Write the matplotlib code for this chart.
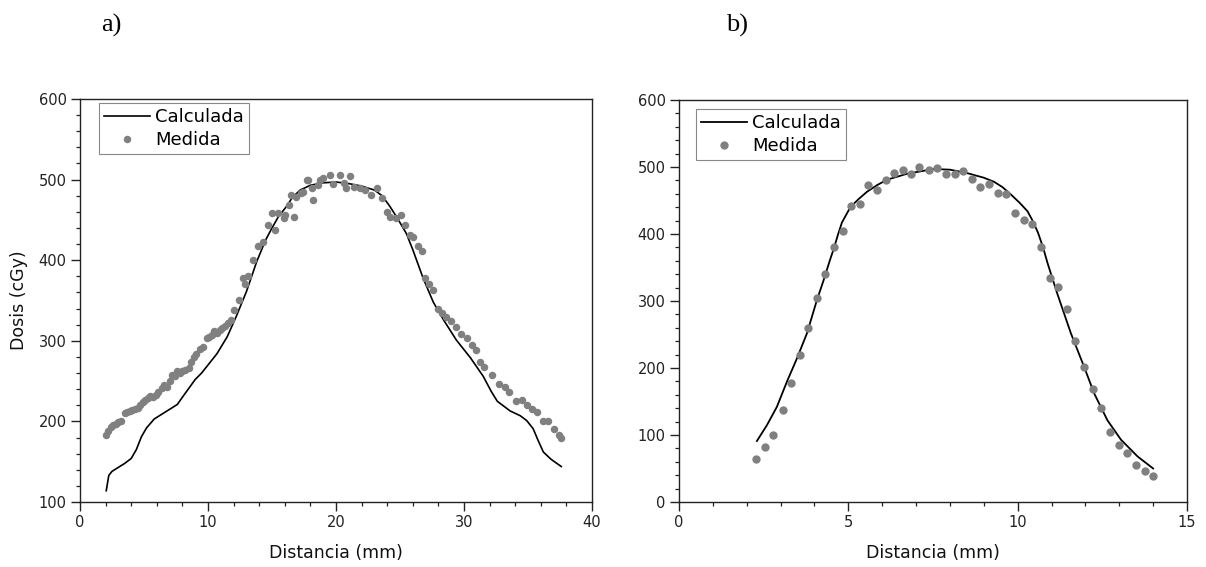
import matplotlib
matplotlib.use("Agg")
import matplotlib.pyplot as plt
from matplotlib.ticker import MultipleLocator

# panel a) - calculada (line) and medida (points)
xa_calc = [2.05, 2.25, 2.5, 3.0, 3.5, 4.0, 4.4, 4.8, 5.2, 5.8, 6.5, 7.0, 7.6, 8.0, 8.5,
           9.0, 9.5, 10.0, 10.7, 11.5, 12.2, 13.0, 13.8, 14.5, 15.0, 15.5, 16.1, 16.6,
           17.2, 18.0, 19.0, 20.0, 21.0, 22.0, 23.0, 23.6, 24.2, 24.8, 25.5, 26.0, 26.8,
           27.6, 28.4, 29.4, 30.5, 31.5, 32.1, 32.6, 33.6, 34.4, 34.9, 35.4, 35.8, 36.2,
           36.8, 37.6]
ya_calc = [114, 133, 138, 143, 148, 154, 165, 181, 192, 203, 210, 215, 221, 230, 241,
           252, 260, 270, 284, 305, 330, 361, 398, 425, 440, 454, 466, 478,
           487, 493, 496, 497, 495, 492, 487, 480, 467, 452, 433, 413, 378,
           348, 326, 301, 279, 256, 238, 225, 213, 207, 201, 191, 176, 162,
           153, 144]

xa_med = [2.0, 2.2, 2.4, 2.6, 2.8, 3.0, 3.2, 3.5, 3.7, 3.9, 4.1, 4.3, 4.5, 4.7, 4.9,
          5.1, 5.3, 5.5, 5.7, 5.9, 6.1, 6.4, 6.6, 6.8, 7.0, 7.2, 7.4, 7.6, 7.8, 8.0,
          8.2, 8.5, 8.7, 8.9, 9.1, 9.4, 9.6, 9.9, 10.1, 10.3, 10.5, 10.7, 10.9, 11.1,
          11.3, 11.6, 11.8, 12.0, 12.4, 12.76, 12.9, 13.15, 13.5, 13.9, 14.3, 14.7,
          15.0, 15.2, 15.5, 15.9, 16.0, 16.3, 16.5, 16.75, 16.9, 17.3, 17.4, 17.7,
          17.8, 18.1, 18.2, 18.6, 18.75, 19.0, 19.5, 19.8, 20.3, 20.6, 20.8, 21.1,
          21.4, 21.9, 22.3, 22.7, 23.2, 23.6, 24.0, 24.2, 24.7, 25.1, 25.4, 25.8,
          26.0, 26.4, 26.7, 26.95, 27.3, 27.6, 28.0, 28.25, 28.6, 29.0, 29.4, 29.8,
          30.2, 30.6, 30.9, 31.25, 31.6, 32.2, 32.7, 33.2, 33.5, 34.1, 34.5, 34.9,
          35.3, 35.7, 36.2, 36.6, 37.0, 37.4, 37.6]
ya_med = [183, 188, 193, 195, 197, 199, 200, 210, 212, 213, 214, 215, 217, 220, 224,
          227, 229, 232, 230, 233, 236, 241, 245, 243, 250, 258, 256, 262, 260, 262,
          264, 266, 274, 280, 284, 290, 292, 303, 305, 307, 312, 310, 314, 316,
          318, 322, 326, 338, 351, 378, 370, 380, 400, 417, 423, 444,
          458, 437, 459, 452, 456, 468, 481, 453, 478, 483, 485, 500,
          500, 489, 475, 493, 500, 502, 506, 495, 506, 496, 489, 504,
          491, 489, 487, 481, 489, 477, 460, 454, 452, 456, 444, 431,
          429, 418, 411, 378, 371, 363, 340, 334, 330, 324, 317, 309,
          303, 295, 289, 274, 268, 258, 247, 243, 237, 225, 227, 220,
          216, 212, 200, 200, 191, 183, 179]

# panel b)
xb_calc = [2.3, 2.6, 2.89, 3.19, 3.48, 3.78, 4.07, 4.27, 4.45, 4.57, 4.7, 4.81, 4.95,
           5.06, 5.3, 5.55, 5.85, 6.14, 6.74, 7.52, 8.0, 8.5, 9.0, 9.3, 9.55, 9.8,
           10.05, 10.29, 10.45, 10.6, 10.75, 10.88, 11.17, 11.57, 11.96, 12.26,
           12.65, 13.05, 13.54, 14.0]
yb_calc = [91, 115, 142, 180, 214, 252, 301, 331, 360, 378, 400, 417, 430,
           440, 452, 463, 473, 481, 490, 497, 496, 491, 484, 478, 470, 459,
           447, 434, 419, 402, 380, 357, 311, 252, 202, 162,
           122, 93, 68, 50]

xb_med = [2.28, 2.54, 2.79, 3.06, 3.3, 3.56, 3.82, 4.07, 4.32, 4.59, 4.84, 5.08, 5.33,
          5.59, 5.85, 6.1, 6.35, 6.6, 6.86, 7.1, 7.38, 7.62, 7.89, 8.15, 8.39, 8.65,
          8.9, 9.16, 9.42, 9.67, 9.92, 10.18, 10.43, 10.68, 10.94, 11.19, 11.45, 11.7,
          11.95, 12.21, 12.46, 12.72, 12.98, 13.23, 13.49, 13.75, 14.0]
yb_med = [64, 82, 100, 137, 178, 219, 260, 305, 340, 380, 404, 442, 445,
          473, 466, 480, 491, 496, 490, 500, 495, 498, 489, 489, 494, 482,
          470, 475, 461, 459, 431, 421, 415, 381, 334, 321, 288, 240,
          202, 169, 141, 104, 85, 73, 55, 46, 39]

fig = plt.figure(figsize=(12.06, 5.67), dpi=100)
ax1 = fig.add_axes([80/1206, 1-502/567, 512/1206, 403/567])
ax2 = fig.add_axes([679/1206, 1-502/567, 508/1206, 402/567])

ax1.plot(xa_calc, ya_calc, '-', color='black', lw=1.2, label='Calculada')
ax1.plot(xa_med, ya_med, 'o', color='#808080', ms=5.4, mec='none', label='Medida')
ax2.plot(xb_calc, yb_calc, '-', color='black', lw=1.3, label='Calculada')
ax2.plot(xb_med, yb_med, 'o', color='#808080', ms=6.0, mec='none', label='Medida')

ax1.set_xlim(0, 40), ax1.set_ylim(100, 600)
ax2.set_xlim(0, 15), ax2.set_ylim(0, 600)
ax1.xaxis.set_major_locator(MultipleLocator(10)), ax1.xaxis.set_minor_locator(MultipleLocator(2))
ax1.yaxis.set_major_locator(MultipleLocator(100)), ax1.yaxis.set_minor_locator(MultipleLocator(20))
ax2.xaxis.set_major_locator(MultipleLocator(5)), ax2.xaxis.set_minor_locator(MultipleLocator(1))
ax2.yaxis.set_major_locator(MultipleLocator(100)), ax2.yaxis.set_minor_locator(MultipleLocator(20))

for ax, anchor in [(ax1, (19/512, 1-4/403)), (ax2, (17/508, 1-9/402))]:
    for s in ax.spines.values():
        s.set_linewidth(1.0)
        s.set_color('#222222')
    ax.tick_params(which='major', direction='out', length=6.5, width=1.0, labelsize=10.5,
                   pad=3, color='#222222', labelcolor='#222222')
    ax.tick_params(which='minor', direction='out', length=3.2, width=0.9, color='#222222')
    ax.set_xlabel('Distancia (mm)', fontsize=12.5, labelpad=10, color='#111111')
    leg = ax.legend(loc='upper left', bbox_to_anchor=anchor, borderaxespad=0, numpoints=1,
                    fontsize=13, fancybox=False, framealpha=1, edgecolor='#888888',
                    handlelength=2.5, handletextpad=0.3, labelspacing=0.25, borderpad=0.3)
    leg.get_frame().set_linewidth(0.8)

ax1.set_ylabel('Dosis (cGy)', fontsize=12.5, labelpad=8, color='#111111')

fig.text(111/1206, 1-25/567, 'a)', fontsize=19, family='Liberation Serif', ha='center', va='center')
fig.text(737/1206, 1-25/567, 'b)', fontsize=19, family='Liberation Serif', ha='center', va='center')

fig.savefig('out.png', dpi=100)
